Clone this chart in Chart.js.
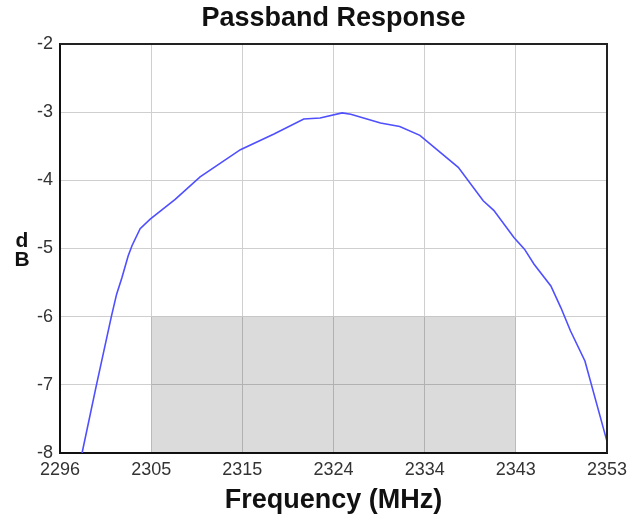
<!DOCTYPE html>
<html>
<head>
<meta charset="utf-8">
<script src="https://cdn.jsdelivr.net/npm/chart.js@4.4.1/dist/chart.umd.min.js"></script>
<style>
  html, body { margin: 0; padding: 0; background: #fff; }
  #wrap { width: 637px; height: 519px; }
</style>
</head>
<body>
<div id="wrap"><canvas id="passband"></canvas></div>
<script>
// curve
const freqs = [2298.3, 2299.8, 2301.35, 2301.9, 2302.45, 2303.1, 2303.5, 2304.35, 2305.4, 2308.0,
  2310.6, 2314.8, 2318.3, 2321.4, 2323.1, 2325.4, 2326.3, 2329.4, 2331.4, 2333.5,
  2337.5, 2340.1, 2341.2, 2343.3, 2344.4, 2345.4, 2347.15, 2348.2, 2349.2, 2350.7, 2353.0];
const gains = [-8.0, -7.0, -6.0, -5.67, -5.43, -5.11, -4.96, -4.71, -4.57, -4.28,
  -3.95, -3.55, -3.32, -3.10, -3.085, -3.01, -3.03, -3.16, -3.21, -3.34,
  -3.81, -4.3, -4.44, -4.84, -5.01, -5.23, -5.55, -5.87, -6.21, -6.65, -7.83];

// shaded spec box
const bandFreqs = [2305.5, 2343.5];
const bandLimit = -6;

// axes
const xMin = 2296, xMax = 2353;
const xTickLabels = ['2296', '2305', '2315', '2324', '2334', '2343', '2353'];
const yMin = -8, yMax = -2;

const curvePoints = freqs.map((f, i) => ({ x: f, y: gains[i] }));
const bandPoints = bandFreqs.map(f => ({ x: f, y: bandLimit }));

const FONT = '"Liberation Sans", Arial, sans-serif';

// frame + stacked dB label
const framePlugin = {
  id: 'frame',
  afterDraw(chart) {
    const ctx = chart.ctx;
    const a = chart.chartArea;
    ctx.save();
    ctx.strokeStyle = '#222';
    ctx.lineWidth = 2;
    ctx.beginPath();
    ctx.moveTo(a.left, a.top);
    ctx.lineTo(a.right, a.top);
    ctx.lineTo(a.right, a.bottom);
    ctx.stroke();
    ctx.fillStyle = '#111';
    ctx.font = 'bold 21px ' + FONT;
    ctx.textAlign = 'center';
    ctx.textBaseline = 'alphabetic';
    ctx.fillText('d', 22, 247);
    ctx.fillText('B', 22, 266);
    ctx.restore();
  }
};

new Chart(document.getElementById('passband'), {
  type: 'scatter',
  data: {
    datasets: [
      {
        data: bandPoints,
        showLine: true,
        borderWidth: 0,
        pointRadius: 0,
        backgroundColor: 'rgba(0,0,0,0.14)',
        fill: 'start'
      },
      {
        data: curvePoints,
        showLine: true,
        borderColor: '#4f4fff',
        borderWidth: 1.6,
        pointRadius: 0,
        tension: 0,
        fill: false
      }
    ]
  },
  options: {
    responsive: true,
    maintainAspectRatio: false,
    animation: false,
    layout: { padding: { left: 0, right: 30, top: 0, bottom: 0 } },
    plugins: {
      legend: { display: false },
      tooltip: { enabled: false },
      title: {
        display: true,
        fullSize: false,
        text: 'Passband Response',
        color: '#111',
        font: { family: FONT, size: 27, weight: 'bold' },
        padding: { top: 2.5, bottom: 9.1 }
      }
    },
    scales: {
      x: {
        type: 'linear',
        min: xMin,
        max: xMax,
        afterBuildTicks(scale) {
          const step = (xMax - xMin) / (xTickLabels.length - 1);
          scale.ticks = xTickLabels.map((t, i) => ({ value: xMin + i * step }));
        },
        afterFit(scale) { scale.height = 66; },
        ticks: {
          autoSkip: false,
          maxRotation: 0,
          color: '#333',
          padding: 6,
          font: { family: FONT, size: 18 },
          callback: (v, i) => xTickLabels[i]
        },
        grid: { color: '#cfcfcf', lineWidth: 1, drawTicks: false },
        border: { color: '#111', width: 2 },
        title: {
          display: true,
          text: 'Frequency (MHz)',
          color: '#111',
          font: { family: FONT, size: 27, weight: 'bold' },
          padding: { top: 2, bottom: 2.3 }
        }
      },
      y: {
        min: yMin,
        max: yMax,
        afterFit(scale) { scale.width = 60; },
        ticks: {
          stepSize: 1,
          color: '#333',
          padding: 7,
          font: { family: FONT, size: 18 }
        },
        grid: { color: '#cfcfcf', lineWidth: 1, drawTicks: false },
        border: { color: '#111', width: 2 }
      }
    }
  },
  plugins: [framePlugin]
});
</script>
</body>
</html>
